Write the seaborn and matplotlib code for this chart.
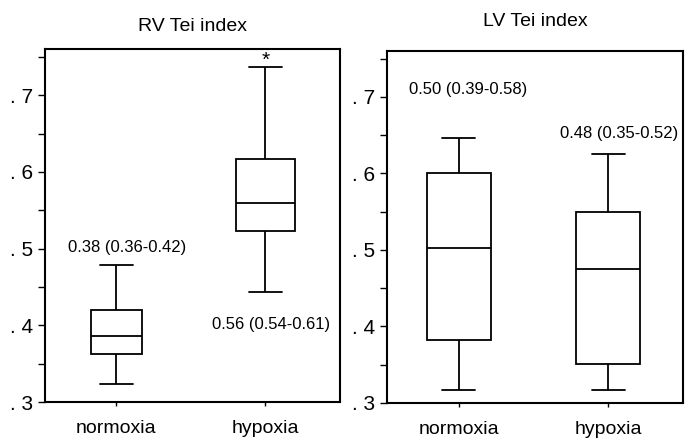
import pandas as pd
import matplotlib.pyplot as plt
import seaborn as sns

# Five-number summaries (min, Q1, median, Q3, max)
groups = ['normoxia', 'hypoxia']
rv_normoxia = [0.323, 0.363, 0.386, 0.420, 0.478]
rv_hypoxia = [0.444, 0.523, 0.560, 0.617, 0.737]
lv_normoxia = [0.317, 0.382, 0.503, 0.600, 0.647]
lv_hypoxia = [0.317, 0.351, 0.475, 0.550, 0.626]

rv_labels = ['0.38 (0.36-0.42)', '0.56 (0.54-0.61)']
lv_labels = ['0.50 (0.39-0.58)', '0.48 (0.35-0.52)']
rv_label_y = [0.502, 0.401]
lv_label_y = [0.710, 0.652]

yticks = [0.3, 0.4, 0.5, 0.6, 0.7]
ytick_labels = ['. 3', '. 4', '. 5', '. 6', '. 7']

sns.set_style('ticks')
plt.rcParams['font.family'] = ['Liberation Sans', 'DejaVu Sans']
plt.rcParams['text.color'] = 'black'
plt.rcParams['xtick.color'] = 'black'
plt.rcParams['ytick.color'] = 'black'
plt.rcParams['axes.labelcolor'] = 'black'


def make_df(normoxia, hypoxia):
    return pd.DataFrame({
        'group': ['normoxia'] * len(normoxia) + ['hypoxia'] * len(hypoxia),
        'value': normoxia + hypoxia,
    })


def draw_panel(ax, df, widths, title, labels, label_y, label_x, title_pad):
    # one call per group so each box can keep its own width
    for g, w in zip(groups, widths):
        sns.boxplot(data=df[df['group'] == g], x='group', y='value', order=groups,
                    whis=(0, 100), width=w, color='white', linecolor='black',
                    linewidth=1.3, showfliers=False, capwidths=0.22, ax=ax)
    for i, (txt, y) in enumerate(zip(labels, label_y)):
        ax.text(label_x[i], y, txt, ha='center', va='center', fontsize=12)
    ax.set_xlim(-0.48, 1.5)
    ax.set_ylim(0.3, 0.76)
    ax.set_yticks(yticks)
    ax.set_yticklabels(ytick_labels, fontsize=15)
    ax.set_yticks([0.35, 0.45, 0.55, 0.65, 0.75], minor=True)
    ax.tick_params(axis='y', which='both', length=5, width=1, direction='out')
    ax.tick_params(axis='x', length=3, width=1, labelsize=14, pad=10)
    ax.set_xlabel('')
    ax.set_ylabel('')
    ax.set_title(title, fontsize=14, pad=title_pad, color='black')
    for s in ax.spines.values():
        s.set_visible(True)
        s.set_linewidth(1.5)
        s.set_color('black')


fig = plt.figure(figsize=(6.89, 4.41), dpi=100)
ax1 = fig.add_axes([0.0653, 0.0884, 0.428, 0.800])
ax2 = fig.add_axes([0.5617, 0.0862, 0.4296, 0.798])

draw_panel(ax1, make_df(rv_normoxia, rv_hypoxia), [0.34, 0.40], 'RV Tei index',
           rv_labels, rv_label_y, [0.07, 1.04], 13)
ax1.text(1, 0.733, '*', ha='center', va='bottom', fontsize=15)

draw_panel(ax2, make_df(lv_normoxia, lv_hypoxia), [0.43, 0.43], 'LV Tei index',
           lv_labels, lv_label_y, [0.06, 1.07], 18)

plt.savefig('out.png', dpi=100)
